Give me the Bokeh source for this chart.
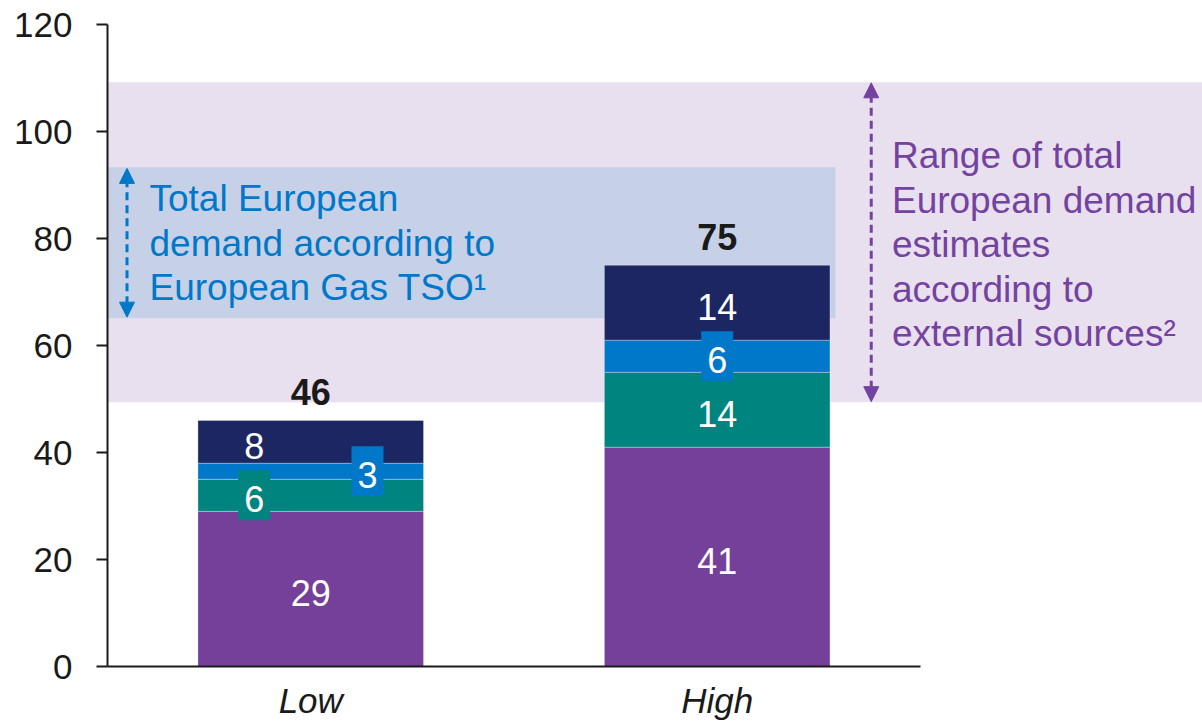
from bokeh.plotting import figure
from bokeh.models import (ColumnDataSource, Range1d, FixedTicker, Arrow, NormalHead)
from bokeh.core.properties import value
from bokeh.embed import file_html
from bokeh.resources import INLINE

# ---------------- data ----------------
categories = ["Low", "High"]
seg_purple = [29, 41]
seg_teal = [6, 14]
seg_blue = [3, 6]
seg_navy = [8, 14]
totals = [46, 75]

tso_range = [65.1, 93.3]        # Total European demand according to European Gas TSO
external_range = [49.4, 109.2]  # Range of external estimates

y_ticks = [0, 20, 40, 60, 80, 100, 120]

blue_text = ["Total European", "demand according to", "European Gas TSO\u00b9"]
purple_text = ["Range of total", "European demand", "estimates", "according to",
               "external sources\u00b2"]

# ---------------- style / layout ----------------
FONT = "Liberation Sans"
C_PURPLE = "#74409A"
C_TEAL = "#00847F"
C_BLUE = "#0078C9"
C_NAVY = "#1B2663"
C_BAND_PURPLE = "#E8E0EE"
C_BAND_BLUE = "#C6D1E7"
C_TXT_BLUE = "#0078C9"
C_TXT_PURPLE = "#7442A0"
C_DARK = "#1a1a1a"

X_MAX = 2.694
BAR_W = 0.555
xc = [0.5 + i for i in range(len(categories))]

p = figure(width=1202, height=722, x_range=Range1d(0, X_MAX), y_range=Range1d(0, 120),
           output_backend="svg", toolbar_location=None,
           min_border_left=107, min_border_right=0, min_border_top=24, min_border_bottom=56)
p.outline_line_color = None
p.xgrid.visible = False
p.ygrid.visible = False
p.background_fill_color = "white"
p.border_fill_color = "white"

# bands
p.quad(left=[0], right=[X_MAX], bottom=[external_range[0]], top=[external_range[1]],
       fill_color=C_BAND_PURPLE, line_color=None)
p.quad(left=[0], right=[1.791], bottom=[tso_range[0]], top=[tso_range[1]],
       fill_color=C_BAND_BLUE, line_color=None)

# stacked bars
src = ColumnDataSource(dict(x=xc, purple=seg_purple, teal=seg_teal, blue=seg_blue, navy=seg_navy))
p.vbar_stack(["purple", "teal", "blue", "navy"], x="x", width=BAR_W, source=src,
             color=[C_PURPLE, C_TEAL, C_BLUE, C_NAVY], line_color="white", line_alpha=0.3,
             line_width=1)

# segment labels
segs = [seg_purple, seg_teal, seg_blue, seg_navy]
seg_colors = [C_PURPLE, C_TEAL, C_BLUE, C_NAVY]
# x offsets of labels within each bar (layout)
label_dx = {0: [0.0, -0.139, 0.1396, -0.139], 1: [0.0, 0.0, 0.0, 0.0]}
# small segments get a label box
boxed = {0: [False, True, True, False], 1: [False, False, True, False]}

lx, ly, lt = [], [], []
bx, by, bc = [], [], []
for i in range(len(categories)):
    base = 0
    for k, s in enumerate(segs):
        v = s[i]
        mid = base + v / 2
        x = xc[i] + label_dx[i][k]
        if boxed[i][k]:
            bx.append(x); by.append(mid); bc.append(seg_colors[k])
        lx.append(x); ly.append(mid); lt.append(str(v))
        base += v

p.rect(x=bx, y=by, width=32, height=50, width_units="screen", height_units="screen",
       fill_color=bc, line_color=None)
p.text(x=lx, y=ly, text=lt, text_font=value(FONT), text_font_size="36px",
       text_color="white", text_align="center", text_baseline="middle", y_offset=4)

# totals
p.text(x=xc, y=totals, text=[str(t) for t in totals], text_font=value(FONT),
       text_font_size="36px", text_font_style="bold", text_color=C_DARK,
       text_align="center", text_baseline="bottom", y_offset=-15)

# annotation texts
LINE_STEP = 8.32
bt_x = 0.1033
bt_y0 = 87.4
p.text(x=[bt_x] * len(blue_text), y=[bt_y0 - LINE_STEP * i for i in range(len(blue_text))],
       text=blue_text, text_font=value(FONT), text_font_size="37px",
       text_color=C_TXT_BLUE, text_align="left", text_baseline="middle")
pt_x = 1.930
pt_y0 = 95.5
p.text(x=[pt_x] * len(purple_text), y=[pt_y0 - LINE_STEP * i for i in range(len(purple_text))],
       text=purple_text, text_font=value(FONT), text_font_size="37px",
       text_color=C_TXT_PURPLE, text_align="left", text_baseline="middle")

# arrows
def dbl_arrow(x, y0, y1, color):
    p.add_layout(Arrow(x_start=x, y_start=y0, x_end=x, y_end=y1,
                       start=NormalHead(size=15, fill_color=color, line_color=color),
                       end=NormalHead(size=15, fill_color=color, line_color=color),
                       line_color=color, line_width=3, line_dash="8 5"))

dbl_arrow(0.048, tso_range[0] + 0.2, tso_range[1] - 0.2, C_TXT_BLUE)
dbl_arrow(1.879, external_range[0] + 0.1, external_range[1] - 0.1, C_TXT_PURPLE)

# axes
xa = p.xaxis[0]
xa.ticker = FixedTicker(ticks=xc)
xa.major_label_overrides = {x: c for x, c in zip(xc, categories)}
xa.bounds = (0, 2)
xa.axis_line_color = C_DARK
xa.axis_line_width = 2
xa.major_tick_line_color = None
xa.minor_tick_line_color = None
xa.major_label_text_font = FONT
xa.major_label_text_font_size = "35px"
xa.major_label_text_font_style = "italic"
xa.major_label_text_color = C_DARK
xa.major_label_standoff = 8

ya = p.yaxis[0]
ya.ticker = FixedTicker(ticks=y_ticks)
ya.axis_line_color = C_DARK
ya.axis_line_width = 2
ya.major_tick_line_color = C_DARK
ya.major_tick_line_width = 2
ya.major_tick_out = 11
ya.major_tick_in = 0
ya.minor_tick_line_color = None
ya.major_label_text_font = FONT
ya.major_label_text_font_size = "35px"
ya.major_label_text_color = C_DARK
ya.major_label_standoff = 24

open("out.html", "w").write(file_html(p, INLINE))
